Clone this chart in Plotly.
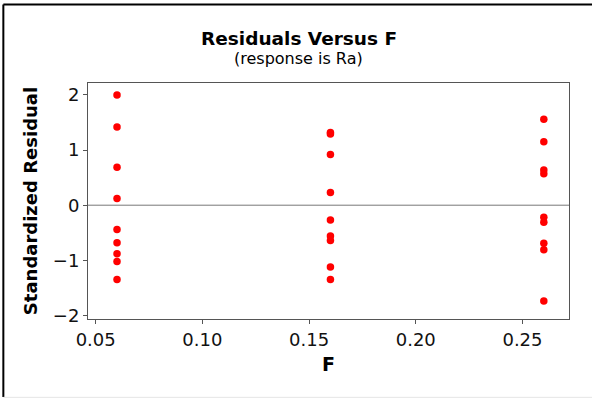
import plotly.graph_objects as go

# Data
f_values = [0.06] * 9 + [0.16] * 9 + [0.26] * 9
residuals = [
    2.00, 1.42, 0.69, 0.12, -0.44, -0.68, -0.88, -1.02, -1.35,
    1.32, 1.29, 0.92, 0.23, -0.27, -0.56, -0.64, -1.12, -1.35,
    1.56, 1.15, 0.64, 0.57, -0.22, -0.31, -0.69, -0.81, -1.74,
]
x_ticks = [0.05, 0.10, 0.15, 0.20, 0.25]
x_tick_text = ["0.05", "0.10", "0.15", "0.20", "0.25"]
y_ticks = [-2, -1, 0, 1, 2]

FONT = "DejaVu Sans"

fig = go.Figure()
fig.add_trace(go.Scatter(
    x=f_values, y=residuals, mode="markers",
    marker=dict(color="#ff0000", size=7.5, line=dict(width=0)),
    showlegend=False, hoverinfo="x+y",
))

axis_common = dict(
    showgrid=False, zeroline=False, showline=True, linecolor="#555555",
    linewidth=1, mirror=True, ticks="outside", ticklen=4, tickcolor="#555555",
    tickfont=dict(family=FONT, size=18, color="#111111"),
)

fig.update_layout(
    width=592, height=399,
    margin=dict(l=88, r=23, t=83, b=80),
    paper_bgcolor="white", plot_bgcolor="white",
    font=dict(family=FONT),
    xaxis=dict(
        range=[0.0464, 0.2718], tickvals=x_ticks, ticktext=x_tick_text,
        title=dict(text="<b>F</b>", font=dict(family=FONT, size=19, color="#000"), standoff=9),
        automargin=False,
        **axis_common,
    ),
    yaxis=dict(
        range=[-2.065, 2.217], tickvals=y_ticks,
        title=dict(text="<b>Standardized Residual</b>", font=dict(family=FONT, size=18, color="#000"), standoff=10),
        automargin=False,
        **axis_common,
    ),
    annotations=[
        dict(text="<b>Residuals Versus F</b>", xref="paper", yref="paper",
             x=0.438, y=1.189, xanchor="center", yanchor="middle", showarrow=False,
             font=dict(family=FONT, size=18.5, color="#000")),
        dict(text="(response is Ra)", xref="paper", yref="paper",
             x=0.438, y=1.104, xanchor="center", yanchor="middle", showarrow=False,
             font=dict(family=FONT, size=16, color="#000")),
    ],
    shapes=[
        dict(type="line", xref="paper", yref="y", x0=0, x1=1, y0=0, y1=0,
             line=dict(color="#777777", width=1)),
        dict(type="line", xref="paper", yref="paper", x0=-0.176, x1=1.05, y0=1.333, y1=1.333,
             line=dict(color="#000000", width=2)),
        dict(type="line", xref="paper", yref="paper", x0=-0.176, x1=-0.176, y0=1.333, y1=-0.33,
             line=dict(color="#000000", width=2)),
        dict(type="line", xref="paper", yref="paper", x0=-0.176, x1=1.05, y0=-0.332, y1=-0.332,
             line=dict(color="#e6e6e6", width=1)),
    ],
)

fig.write_html(
    "out.html",
    config={"displayModeBar": False},
    post_script="document.body.style.margin='0';document.body.style.padding='0';",
)
